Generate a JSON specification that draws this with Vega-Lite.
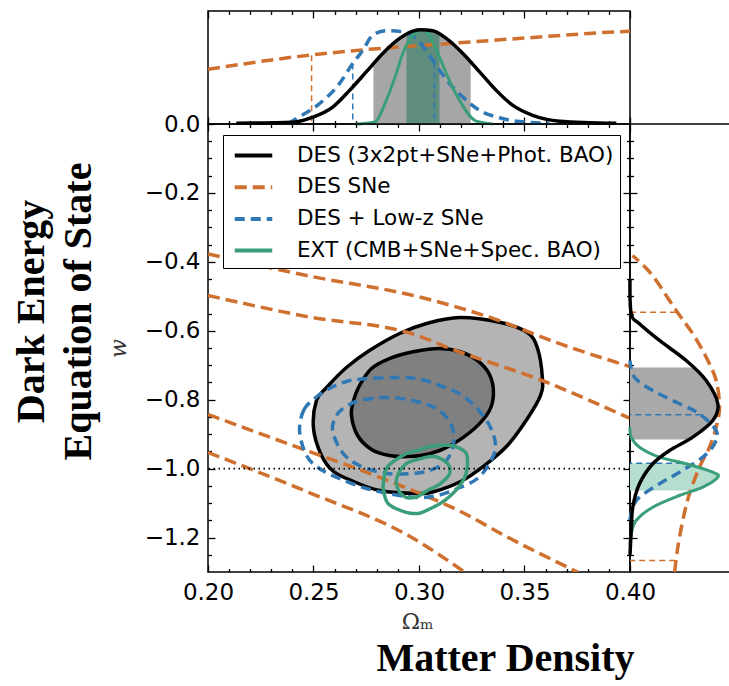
{
  "$schema": "https://vega.github.io/schema/vega-lite/v6.json",
  "usermeta": {"embedOptions": {"actions": false}},
  "autosize": {"type": "none"},
  "padding": {"left": 208, "top": 11, "right": 521, "bottom": 675},
  "bounds": "flush",
  "spacing": 0,
  "config": {
    "view": {"stroke": "black", "strokeWidth": 1.5},
    "axis": {"domain": false, "grid": false, "tickColor": "black", "tickWidth": 1.3, "labelColor": "black", "labelFont": "DejaVu Sans", "labelFontSize": 23, "labelFlush": false, "labelOverlap": false, "titleColor": "black"}
  },
  "datasets": {
    "cont": [
      {"s":"DES (3x2pt+SNe+Phot. BAO)","c":"k2","i":0,"x":0.2500,"w":-0.8836},
      {"s":"DES (3x2pt+SNe+Phot. BAO)","c":"k2","i":1,"x":0.2514,"w":-0.8023},
      {"s":"DES (3x2pt+SNe+Phot. BAO)","c":"k2","i":2,"x":0.2562,"w":-0.7646},
      {"s":"DES (3x2pt+SNe+Phot. BAO)","c":"k2","i":3,"x":0.2656,"w":-0.7066},
      {"s":"DES (3x2pt+SNe+Phot. BAO)","c":"k2","i":4,"x":0.2765,"w":-0.6573},
      {"s":"DES (3x2pt+SNe+Phot. BAO)","c":"k2","i":5,"x":0.2908,"w":-0.6079},
      {"s":"DES (3x2pt+SNe+Phot. BAO)","c":"k2","i":6,"x":0.3036,"w":-0.5789},
      {"s":"DES (3x2pt+SNe+Phot. BAO)","c":"k2","i":7,"x":0.3192,"w":-0.5615},
      {"s":"DES (3x2pt+SNe+Phot. BAO)","c":"k2","i":8,"x":0.3386,"w":-0.5760},
      {"s":"DES (3x2pt+SNe+Phot. BAO)","c":"k2","i":9,"x":0.3514,"w":-0.6050},
      {"s":"DES (3x2pt+SNe+Phot. BAO)","c":"k2","i":10,"x":0.3562,"w":-0.6515},
      {"s":"DES (3x2pt+SNe+Phot. BAO)","c":"k2","i":11,"x":0.3585,"w":-0.7385},
      {"s":"DES (3x2pt+SNe+Phot. BAO)","c":"k2","i":12,"x":0.3576,"w":-0.7878},
      {"s":"DES (3x2pt+SNe+Phot. BAO)","c":"k2","i":13,"x":0.3514,"w":-0.8546},
      {"s":"DES (3x2pt+SNe+Phot. BAO)","c":"k2","i":14,"x":0.3419,"w":-0.9329},
      {"s":"DES (3x2pt+SNe+Phot. BAO)","c":"k2","i":15,"x":0.3310,"w":-0.9910},
      {"s":"DES (3x2pt+SNe+Phot. BAO)","c":"k2","i":16,"x":0.3197,"w":-1.0374},
      {"s":"DES (3x2pt+SNe+Phot. BAO)","c":"k2","i":17,"x":0.3073,"w":-1.0664},
      {"s":"DES (3x2pt+SNe+Phot. BAO)","c":"k2","i":18,"x":0.2993,"w":-1.0722},
      {"s":"DES (3x2pt+SNe+Phot. BAO)","c":"k2","i":19,"x":0.2813,"w":-1.0635},
      {"s":"DES (3x2pt+SNe+Phot. BAO)","c":"k2","i":20,"x":0.2690,"w":-1.0374},
      {"s":"DES (3x2pt+SNe+Phot. BAO)","c":"k2","i":21,"x":0.2595,"w":-1.0084},
      {"s":"DES (3x2pt+SNe+Phot. BAO)","c":"k2","i":22,"x":0.2538,"w":-0.9620},
      {"s":"DES (3x2pt+SNe+Phot. BAO)","c":"k1","i":0,"x":0.2680,"w":-0.8459},
      {"s":"DES (3x2pt+SNe+Phot. BAO)","c":"k1","i":1,"x":0.2690,"w":-0.8023},
      {"s":"DES (3x2pt+SNe+Phot. BAO)","c":"k1","i":2,"x":0.2718,"w":-0.7588},
      {"s":"DES (3x2pt+SNe+Phot. BAO)","c":"k1","i":3,"x":0.2775,"w":-0.7095},
      {"s":"DES (3x2pt+SNe+Phot. BAO)","c":"k1","i":4,"x":0.2860,"w":-0.6805},
      {"s":"DES (3x2pt+SNe+Phot. BAO)","c":"k1","i":5,"x":0.2979,"w":-0.6602},
      {"s":"DES (3x2pt+SNe+Phot. BAO)","c":"k1","i":6,"x":0.3097,"w":-0.6515},
      {"s":"DES (3x2pt+SNe+Phot. BAO)","c":"k1","i":7,"x":0.3192,"w":-0.6602},
      {"s":"DES (3x2pt+SNe+Phot. BAO)","c":"k1","i":8,"x":0.3277,"w":-0.6863},
      {"s":"DES (3x2pt+SNe+Phot. BAO)","c":"k1","i":9,"x":0.3334,"w":-0.7269},
      {"s":"DES (3x2pt+SNe+Phot. BAO)","c":"k1","i":10,"x":0.3353,"w":-0.7791},
      {"s":"DES (3x2pt+SNe+Phot. BAO)","c":"k1","i":11,"x":0.3334,"w":-0.8314},
      {"s":"DES (3x2pt+SNe+Phot. BAO)","c":"k1","i":12,"x":0.3263,"w":-0.8836},
      {"s":"DES (3x2pt+SNe+Phot. BAO)","c":"k1","i":13,"x":0.3149,"w":-0.9329},
      {"s":"DES (3x2pt+SNe+Phot. BAO)","c":"k1","i":14,"x":0.3055,"w":-0.9561},
      {"s":"DES (3x2pt+SNe+Phot. BAO)","c":"k1","i":15,"x":0.2955,"w":-0.9649},
      {"s":"DES (3x2pt+SNe+Phot. BAO)","c":"k1","i":16,"x":0.2860,"w":-0.9620},
      {"s":"DES (3x2pt+SNe+Phot. BAO)","c":"k1","i":17,"x":0.2775,"w":-0.9445},
      {"s":"DES (3x2pt+SNe+Phot. BAO)","c":"k1","i":18,"x":0.2709,"w":-0.9039},
      {"s":"DES + Low-z SNe","c":"b2","i":0,"x":0.2434,"w":-0.8923},
      {"s":"DES + Low-z SNe","c":"b2","i":1,"x":0.2453,"w":-0.8314},
      {"s":"DES + Low-z SNe","c":"b2","i":2,"x":0.2505,"w":-0.7965},
      {"s":"DES + Low-z SNe","c":"b2","i":3,"x":0.2576,"w":-0.7675},
      {"s":"DES + Low-z SNe","c":"b2","i":4,"x":0.2656,"w":-0.7472},
      {"s":"DES + Low-z SNe","c":"b2","i":5,"x":0.2751,"w":-0.7385},
      {"s":"DES + Low-z SNe","c":"b2","i":6,"x":0.2879,"w":-0.7356},
      {"s":"DES + Low-z SNe","c":"b2","i":7,"x":0.2993,"w":-0.7385},
      {"s":"DES + Low-z SNe","c":"b2","i":8,"x":0.3097,"w":-0.7588},
      {"s":"DES + Low-z SNe","c":"b2","i":9,"x":0.3182,"w":-0.7791},
      {"s":"DES + Low-z SNe","c":"b2","i":10,"x":0.3263,"w":-0.8168},
      {"s":"DES + Low-z SNe","c":"b2","i":11,"x":0.3334,"w":-0.8749},
      {"s":"DES + Low-z SNe","c":"b2","i":12,"x":0.3363,"w":-0.9329},
      {"s":"DES + Low-z SNe","c":"b2","i":13,"x":0.3339,"w":-0.9794},
      {"s":"DES + Low-z SNe","c":"b2","i":14,"x":0.3277,"w":-1.0287},
      {"s":"DES + Low-z SNe","c":"b2","i":15,"x":0.3182,"w":-1.0577},
      {"s":"DES + Low-z SNe","c":"b2","i":16,"x":0.3088,"w":-1.0780},
      {"s":"DES + Low-z SNe","c":"b2","i":17,"x":0.2993,"w":-1.0838},
      {"s":"DES + Low-z SNe","c":"b2","i":18,"x":0.2879,"w":-1.0751},
      {"s":"DES + Low-z SNe","c":"b2","i":19,"x":0.2751,"w":-1.0577},
      {"s":"DES + Low-z SNe","c":"b2","i":20,"x":0.2623,"w":-1.0287},
      {"s":"DES + Low-z SNe","c":"b2","i":21,"x":0.2528,"w":-0.9997},
      {"s":"DES + Low-z SNe","c":"b2","i":22,"x":0.2467,"w":-0.9620},
      {"s":"DES + Low-z SNe","c":"b1","i":0,"x":0.2590,"w":-0.8894},
      {"s":"DES + Low-z SNe","c":"b1","i":1,"x":0.2609,"w":-0.8459},
      {"s":"DES + Low-z SNe","c":"b1","i":2,"x":0.2647,"w":-0.8227},
      {"s":"DES + Low-z SNe","c":"b1","i":3,"x":0.2718,"w":-0.8023},
      {"s":"DES + Low-z SNe","c":"b1","i":4,"x":0.2846,"w":-0.7936},
      {"s":"DES + Low-z SNe","c":"b1","i":5,"x":0.2969,"w":-0.8023},
      {"s":"DES + Low-z SNe","c":"b1","i":6,"x":0.3073,"w":-0.8227},
      {"s":"DES + Low-z SNe","c":"b1","i":7,"x":0.3135,"w":-0.8546},
      {"s":"DES + Low-z SNe","c":"b1","i":8,"x":0.3164,"w":-0.8952},
      {"s":"DES + Low-z SNe","c":"b1","i":9,"x":0.3159,"w":-0.9417},
      {"s":"DES + Low-z SNe","c":"b1","i":10,"x":0.3121,"w":-0.9823},
      {"s":"DES + Low-z SNe","c":"b1","i":11,"x":0.3050,"w":-1.0055},
      {"s":"DES + Low-z SNe","c":"b1","i":12,"x":0.2969,"w":-1.0141},
      {"s":"DES + Low-z SNe","c":"b1","i":13,"x":0.2846,"w":-1.0141},
      {"s":"DES + Low-z SNe","c":"b1","i":14,"x":0.2718,"w":-0.9910},
      {"s":"DES + Low-z SNe","c":"b1","i":15,"x":0.2637,"w":-0.9532},
      {"s":"EXT (CMB+SNe+Spec. BAO)","c":"g2","i":0,"x":0.2832,"w":-1.0374},
      {"s":"EXT (CMB+SNe+Spec. BAO)","c":"g2","i":1,"x":0.2846,"w":-0.9997},
      {"s":"EXT (CMB+SNe+Spec. BAO)","c":"g2","i":2,"x":0.2879,"w":-0.9794},
      {"s":"EXT (CMB+SNe+Spec. BAO)","c":"g2","i":3,"x":0.2941,"w":-0.9561},
      {"s":"EXT (CMB+SNe+Spec. BAO)","c":"g2","i":4,"x":0.2993,"w":-0.9474},
      {"s":"EXT (CMB+SNe+Spec. BAO)","c":"g2","i":5,"x":0.3055,"w":-0.9358},
      {"s":"EXT (CMB+SNe+Spec. BAO)","c":"g2","i":6,"x":0.3149,"w":-0.9329},
      {"s":"EXT (CMB+SNe+Spec. BAO)","c":"g2","i":7,"x":0.3216,"w":-0.9503},
      {"s":"EXT (CMB+SNe+Spec. BAO)","c":"g2","i":8,"x":0.3230,"w":-0.9794},
      {"s":"EXT (CMB+SNe+Spec. BAO)","c":"g2","i":9,"x":0.3220,"w":-1.0200},
      {"s":"EXT (CMB+SNe+Spec. BAO)","c":"g2","i":10,"x":0.3182,"w":-1.0577},
      {"s":"EXT (CMB+SNe+Spec. BAO)","c":"g2","i":11,"x":0.3121,"w":-1.0926},
      {"s":"EXT (CMB+SNe+Spec. BAO)","c":"g2","i":12,"x":0.3055,"w":-1.1157},
      {"s":"EXT (CMB+SNe+Spec. BAO)","c":"g2","i":13,"x":0.2993,"w":-1.1302},
      {"s":"EXT (CMB+SNe+Spec. BAO)","c":"g2","i":14,"x":0.2927,"w":-1.1244},
      {"s":"EXT (CMB+SNe+Spec. BAO)","c":"g2","i":15,"x":0.2855,"w":-1.1021},
      {"s":"EXT (CMB+SNe+Spec. BAO)","c":"g2","i":16,"x":0.2832,"w":-1.0635},
      {"s":"EXT (CMB+SNe+Spec. BAO)","c":"g1","i":0,"x":0.2893,"w":-1.0345},
      {"s":"EXT (CMB+SNe+Spec. BAO)","c":"g1","i":1,"x":0.2908,"w":-1.0084},
      {"s":"EXT (CMB+SNe+Spec. BAO)","c":"g1","i":2,"x":0.2941,"w":-0.9852},
      {"s":"EXT (CMB+SNe+Spec. BAO)","c":"g1","i":3,"x":0.2993,"w":-0.9736},
      {"s":"EXT (CMB+SNe+Spec. BAO)","c":"g1","i":4,"x":0.3073,"w":-0.9649},
      {"s":"EXT (CMB+SNe+Spec. BAO)","c":"g1","i":5,"x":0.3135,"w":-0.9852},
      {"s":"EXT (CMB+SNe+Spec. BAO)","c":"g1","i":6,"x":0.3145,"w":-1.0141},
      {"s":"EXT (CMB+SNe+Spec. BAO)","c":"g1","i":7,"x":0.3102,"w":-1.0432},
      {"s":"EXT (CMB+SNe+Spec. BAO)","c":"g1","i":8,"x":0.3040,"w":-1.0635},
      {"s":"EXT (CMB+SNe+Spec. BAO)","c":"g1","i":9,"x":0.2993,"w":-1.0809},
      {"s":"EXT (CMB+SNe+Spec. BAO)","c":"g1","i":10,"x":0.2941,"w":-1.0838},
      {"s":"EXT (CMB+SNe+Spec. BAO)","c":"g1","i":11,"x":0.2903,"w":-1.0635}
    ],
    "sn": [
      {"s":"DES SNe","c":"A","x":0.2,"w":-0.377},
      {"s":"DES SNe","c":"A","x":0.2467,"w":-0.4396},
      {"s":"DES SNe","c":"A","x":0.2993,"w":-0.5006},
      {"s":"DES SNe","c":"A","x":0.3310,"w":-0.5557},
      {"s":"DES SNe","c":"A","x":0.3704,"w":-0.6457},
      {"s":"DES SNe","c":"A","x":0.4,"w":-0.7037},
      {"s":"DES SNe","c":"B","x":0.2,"w":-0.4977},
      {"s":"DES SNe","c":"B","x":0.2467,"w":-0.5586},
      {"s":"DES SNe","c":"B","x":0.2993,"w":-0.6137},
      {"s":"DES SNe","c":"B","x":0.3149,"w":-0.6515},
      {"s":"DES SNe","c":"B","x":0.3595,"w":-0.7472},
      {"s":"DES SNe","c":"B","x":0.4,"w":-0.8546},
      {"s":"DES SNe","c":"C","x":0.2,"w":-0.8430},
      {"s":"DES SNe","c":"C","x":0.2467,"w":-0.9474},
      {"s":"DES SNe","c":"C","x":0.2704,"w":-0.9997},
      {"s":"DES SNe","c":"C","x":0.2993,"w":-1.0693},
      {"s":"DES SNe","c":"C","x":0.3197,"w":-1.1244},
      {"s":"DES SNe","c":"C","x":0.3405,"w":-1.1941},
      {"s":"DES SNe","c":"C","x":0.3751,"w":-1.30},
      {"s":"DES SNe","c":"D","x":0.2,"w":-0.9532},
      {"s":"DES SNe","c":"D","x":0.2467,"w":-1.0664},
      {"s":"DES SNe","c":"D","x":0.2974,"w":-1.2028},
      {"s":"DES SNe","c":"D","x":0.3216,"w":-1.30}
    ],
    "ref": [{"w": -1.0}],
    "top": [
      {"s":"k","x":0.2134,"d":0.008},{"s":"k","x":0.2402,"d":0.019},{"s":"k","x":0.2497,"d":0.072},{"s":"k","x":0.2591,"d":0.179},
      {"s":"k","x":0.2671,"d":0.357},{"s":"k","x":0.2750,"d":0.553},{"s":"k","x":0.2828,"d":0.749},{"s":"k","x":0.2908,"d":0.909},
      {"s":"k","x":0.2971,"d":0.987},{"s":"k","x":0.3010,"d":1.0},{"s":"k","x":0.3065,"d":0.990},{"s":"k","x":0.3129,"d":0.909},
      {"s":"k","x":0.3208,"d":0.749},{"s":"k","x":0.3287,"d":0.553},{"s":"k","x":0.3366,"d":0.357},{"s":"k","x":0.3445,"d":0.197},
      {"s":"k","x":0.3539,"d":0.091},{"s":"k","x":0.3666,"d":0.030},{"s":"k","x":0.3935,"d":0.008},
      {"s":"b","x":0.2380,"d":0.0},{"s":"b","x":0.2410,"d":0.045},{"s":"b","x":0.2528,"d":0.215},{"s":"b","x":0.2623,"d":0.429},
      {"s":"b","x":0.2686,"d":0.642},{"s":"b","x":0.2734,"d":0.784},{"s":"b","x":0.2781,"d":0.944},{"s":"b","x":0.2845,"d":0.990},
      {"s":"b","x":0.2923,"d":0.979},{"s":"b","x":0.3002,"d":0.873},{"s":"b","x":0.3065,"d":0.677},{"s":"b","x":0.3145,"d":0.429},
      {"s":"b","x":0.3208,"d":0.286},{"s":"b","x":0.3287,"d":0.144},{"s":"b","x":0.3382,"d":0.066},{"s":"b","x":0.3508,"d":0.019},
      {"s":"b","x":0.3618,"d":0.0085},
      {"s":"g","x":0.2700,"d":0.0},{"s":"g","x":0.2789,"d":0.019},{"s":"g","x":0.2845,"d":0.251},{"s":"g","x":0.2892,"d":0.535},
      {"s":"g","x":0.2923,"d":0.749},{"s":"g","x":0.2955,"d":0.891},{"s":"g","x":0.2987,"d":0.979},{"s":"g","x":0.3010,"d":0.997},
      {"s":"g","x":0.3034,"d":0.979},{"s":"g","x":0.3065,"d":0.872},{"s":"g","x":0.3097,"d":0.712},{"s":"g","x":0.3137,"d":0.499},
      {"s":"g","x":0.3192,"d":0.251},{"s":"g","x":0.3271,"d":0.030},{"s":"g","x":0.3350,"d":0.0},
      {"s":"o","x":0.2,"d":0.581},{"s":"o","x":0.2481,"d":0.731},{"s":"o","x":0.2718,"d":0.784},{"s":"o","x":0.3145,"d":0.855},
      {"s":"o","x":0.3540,"d":0.919},{"s":"o","x":0.3936,"d":0.979},{"s":"o","x":0.4,"d":0.985}
    ],
    "topRule": [
      {"s":"o","x":0.2491,"d":0.73},
      {"s":"b","x":0.2686,"d":0.642},
      {"s":"b","x":0.3073,"d":0.65}
    ],
    "topBand": [
      {"b":"k","x":0.2784,"d":0.64},{"b":"k","x":0.2828,"d":0.749},{"b":"k","x":0.2908,"d":0.909},{"b":"k","x":0.2971,"d":0.987},
      {"b":"k","x":0.3010,"d":1.0},{"b":"k","x":0.3065,"d":0.990},{"b":"k","x":0.3129,"d":0.909},{"b":"k","x":0.3208,"d":0.749},
      {"b":"k","x":0.3245,"d":0.66},
      {"b":"g","x":0.2941,"d":0.95},{"b":"g","x":0.2971,"d":0.987},{"b":"g","x":0.3010,"d":1.0},{"b":"g","x":0.3065,"d":0.990},
      {"b":"g","x":0.3097,"d":0.95}
    ],
    "side": [
      {"s":"k","w":-0.45,"d":0.0},{"s":"k","w":-0.5508,"d":0.014},{"s":"k","w":-0.5798,"d":0.109},{"s":"k","w":-0.6282,"d":0.339},
      {"s":"k","w":-0.6863,"d":0.646},{"s":"k","w":-0.7443,"d":0.876},{"s":"k","w":-0.8119,"d":1.010},{"s":"k","w":-0.8604,"d":0.952},
      {"s":"k","w":-0.9088,"d":0.722},{"s":"k","w":-0.9474,"d":0.454},{"s":"k","w":-0.9860,"d":0.262},{"s":"k","w":-1.0441,"d":0.109},
      {"s":"k","w":-1.1120,"d":0.032},{"s":"k","w":-1.1796,"d":0.014},{"s":"k","w":-1.25,"d":0.0},
      {"s":"g","w":-0.88,"d":0.0},{"s":"g","w":-0.9088,"d":0.014},{"s":"g","w":-0.9379,"d":0.109},{"s":"g","w":-0.9669,"d":0.339},
      {"s":"g","w":-0.9860,"d":0.646},{"s":"g","w":-1.0104,"d":0.952},{"s":"g","w":-1.0249,"d":1.010},{"s":"g","w":-1.0539,"d":0.837},
      {"s":"g","w":-1.0780,"d":0.569},{"s":"g","w":-1.1120,"d":0.262},{"s":"g","w":-1.1506,"d":0.071},{"s":"g","w":-1.1892,"d":0.014},
      {"s":"g","w":-1.22,"d":0.0},
      {"s":"b","w":-0.6863,"d":0.0},{"s":"b","w":-0.7347,"d":0.052},{"s":"b","w":-0.7733,"d":0.262},{"s":"b","w":-0.8119,"d":0.569},
      {"s":"b","w":-0.8410,"d":0.799},{"s":"b","w":-0.8894,"d":0.991},{"s":"b","w":-0.9280,"d":0.972},{"s":"b","w":-0.9669,"d":0.837},
      {"s":"b","w":-1.0104,"d":0.569},{"s":"b","w":-1.0441,"d":0.339},{"s":"b","w":-1.0829,"d":0.109},{"s":"b","w":-1.1120,"d":0.032},
      {"s":"b","w":-1.15,"d":0.0},
      {"s":"o","w":-0.3816,"d":0.029},{"s":"o","w":-0.4135,"d":0.167},{"s":"o","w":-0.4541,"d":0.301},{"s":"o","w":-0.5412,"d":0.531},
      {"s":"o","w":-0.6088,"d":0.722},{"s":"o","w":-0.6767,"d":0.876},{"s":"o","w":-0.7443,"d":0.991},{"s":"o","w":-0.8218,"d":1.029},
      {"s":"o","w":-0.8798,"d":0.991},{"s":"o","w":-0.9379,"d":0.914},{"s":"o","w":-0.9959,"d":0.799},{"s":"o","w":-1.0731,"d":0.684},
      {"s":"o","w":-1.1506,"d":0.607},{"s":"o","w":-1.2281,"d":0.550},{"s":"o","w":-1.30,"d":0.513}
    ],
    "sideRule": [
      {"s":"o","w":-0.5461,"d":0.53},
      {"s":"o","w":-1.2667,"d":0.52},
      {"s":"b","w":-0.8438,"d":0.82},
      {"s":"b","w":-0.9843,"d":0.60}
    ],
    "sideBand": [
      {"b":"k","w":-0.7066,"d":0.726},{"b":"k","w":-0.7443,"d":0.876},{"b":"k","w":-0.8119,"d":1.010},{"b":"k","w":-0.8604,"d":0.952},
      {"b":"k","w":-0.9088,"d":0.722},{"b":"k","w":-0.9155,"d":0.68},
      {"b":"g","w":-0.9843,"d":0.62},{"b":"g","w":-0.9860,"d":0.646},{"b":"g","w":-1.0104,"d":0.952},{"b":"g","w":-1.0249,"d":1.010},
      {"b":"g","w":-1.0539,"d":0.837},{"b":"g","w":-1.0635,"d":0.74}
    ]
  },
  "vconcat": [
    {
      "width": 422,
      "height": 113,
      "resolve": {"axis": {"x": "independent", "y": "independent"}},
      "layer": [
        {
          "data": {"name": "topBand"},
          "transform": [{"filter": "datum.b === 'k'"}],
          "mark": {"type": "area", "color": "#a6a6a6", "interpolate": "monotone"},
          "encoding": {
            "x": {"field": "x", "type": "quantitative", "scale": {"domain": [0.2, 0.4], "nice": false, "zero": false},
                  "axis": {"orient": "bottom", "values": [0.2, 0.25, 0.3, 0.35, 0.4], "labels": false, "tickSize": -7, "title": null}},
            "y": {"field": "d", "type": "quantitative", "scale": {"domain": [0, 1.2], "nice": false},
                  "axis": {"orient": "left", "values": [0], "format": ".1f", "tickSize": -7, "labelPadding": 15, "title": null}}
          }
        },
        {
          "data": {"name": "topBand"},
          "transform": [{"filter": "datum.b === 'g'"}],
          "mark": {"type": "area", "color": "#5e8c7e", "interpolate": "monotone"},
          "encoding": {
            "x": {"field": "x", "type": "quantitative",
                  "axis": {"orient": "bottom", "values": [0.21,0.22,0.23,0.24,0.26,0.27,0.28,0.29,0.31,0.32,0.33,0.34,0.36,0.37,0.38,0.39], "labels": false, "tickSize": -3.5, "title": null}},
            "y": {"field": "d", "type": "quantitative", "axis": null}
          }
        },
        {
          "data": {"name": "top"},
          "transform": [{"filter": "datum.s === 'o'"}],
          "mark": {"type": "line", "color": "#d0702f", "strokeDash": [12, 6], "strokeWidth": 3.5, "interpolate": "monotone"},
          "encoding": {
            "x": {"field": "x", "type": "quantitative",
                  "axis": {"orient": "top", "values": [0.2, 0.25, 0.3, 0.35, 0.4], "labels": false, "tickSize": -7, "title": null}},
            "y": {"field": "d", "type": "quantitative", "axis": null}
          }
        },
        {
          "data": {"name": "topRule"},
          "transform": [{"filter": "datum.s === 'o'"}],
          "mark": {"type": "rule", "color": "#d0702f", "strokeDash": [6, 4], "strokeWidth": 1.5},
          "encoding": {
            "x": {"field": "x", "type": "quantitative",
                  "axis": {"orient": "top", "values": [0.21,0.22,0.23,0.24,0.26,0.27,0.28,0.29,0.31,0.32,0.33,0.34,0.36,0.37,0.38,0.39], "labels": false, "tickSize": -3.5, "title": null}},
            "y": {"field": "d", "type": "quantitative", "axis": null},
            "y2": {"datum": 0}
          }
        },
        {
          "data": {"name": "top"},
          "transform": [{"filter": "datum.s === 'b'"}],
          "mark": {"type": "line", "color": "#2f78b4", "strokeDash": [10, 6], "strokeWidth": 3.5, "interpolate": "monotone"},
          "encoding": {
            "x": {"field": "x", "type": "quantitative", "axis": null},
            "y": {"field": "d", "type": "quantitative", "axis": null}
          }
        },
        {
          "data": {"name": "topRule"},
          "transform": [{"filter": "datum.s === 'b'"}],
          "mark": {"type": "rule", "color": "#2f78b4", "strokeDash": [6, 4], "strokeWidth": 1.5},
          "encoding": {
            "x": {"field": "x", "type": "quantitative", "axis": null},
            "y": {"field": "d", "type": "quantitative", "axis": null},
            "y2": {"datum": 0}
          }
        },
        {
          "data": {"name": "top"},
          "transform": [{"filter": "datum.s === 'g'"}],
          "mark": {"type": "line", "color": "#3a9e78", "strokeWidth": 3, "interpolate": "monotone"},
          "encoding": {
            "x": {"field": "x", "type": "quantitative", "axis": null},
            "y": {"field": "d", "type": "quantitative", "axis": null}
          }
        },
        {
          "data": {"name": "top"},
          "transform": [{"filter": "datum.s === 'k'"}],
          "mark": {"type": "line", "color": "black", "strokeWidth": 3.5, "interpolate": "monotone"},
          "encoding": {
            "x": {"field": "x", "type": "quantitative", "axis": null},
            "y": {"field": "d", "type": "quantitative", "axis": null}
          }
        }
      ]
    },
    {
      "bounds": "flush",
      "spacing": 0,
      "hconcat": [
        {
          "width": 422,
          "height": 448,
          "resolve": {"axis": {"x": "independent", "y": "independent"}},
          "layer": [
            {
              "data": {"name": "cont"},
              "transform": [{"filter": "datum.c === 'k2'"}],
              "mark": {"type": "line", "interpolate": "cardinal-closed", "fill": "#b4b4b4", "stroke": "black", "strokeWidth": 3.5},
              "encoding": {
                "x": {"field": "x", "type": "quantitative", "scale": {"domain": [0.2, 0.4], "nice": false, "zero": false},
                      "axis": {"orient": "bottom", "values": [0.2, 0.25, 0.3, 0.35, 0.4], "format": ".2f", "tickSize": -7, "labelPadding": 16,
                               "title": "Ωₘ", "titleFont": "DejaVu Serif", "titleFontSize": 22, "titleFontWeight": "normal", "titleColor": "#333333",
                               "titleX": 209, "titleY": 56, "titleAlign": "center", "titleBaseline": "alphabetic"}},
                "y": {"field": "w", "type": "quantitative", "scale": {"domain": [-1.3, 0], "nice": false, "zero": false},
                      "axis": {"orient": "left", "values": [-1.2, -1.0, -0.8, -0.6, -0.4, -0.2], "format": ".1f", "tickSize": -7, "labelPadding": 15,
                               "title": ["Dark Energy", "Equation of State"], "titleFont": "Liberation Serif", "titleFontSize": 40, "titleFontWeight": "bold",
                               "titleAngle": 270, "titleX": -165, "titleY": 187, "titleAlign": "center", "titleBaseline": "alphabetic", "titleLineHeight": 47}},
                "order": {"field": "i", "type": "quantitative"}
              }
            },
            {
              "data": {"name": "cont"},
              "transform": [{"filter": "datum.c === 'k1'"}],
              "mark": {"type": "line", "interpolate": "cardinal-closed", "fill": "#808080", "stroke": "black", "strokeWidth": 3.5},
              "encoding": {
                "x": {"field": "x", "type": "quantitative",
                      "axis": {"orient": "bottom", "values": [0.21,0.22,0.23,0.24,0.26,0.27,0.28,0.29,0.31,0.32,0.33,0.34,0.36,0.37,0.38,0.39], "labels": false, "tickSize": -3.5,
                               "title": "Matter Density", "titleFont": "Liberation Serif", "titleFontSize": 40, "titleFontWeight": "bold",
                               "titleX": 297, "titleY": 98, "titleAlign": "center", "titleBaseline": "alphabetic"}},
                "y": {"field": "w", "type": "quantitative",
                      "axis": {"orient": "left", "values": [-1.25,-1.15,-1.1,-1.05,-0.95,-0.9,-0.85,-0.75,-0.7,-0.65,-0.55,-0.5,-0.45,-0.35,-0.3,-0.25,-0.15,-0.1,-0.05], "labels": false, "tickSize": -3.5,
                               "title": "w", "titleFont": "DejaVu Serif", "titleFontSize": 22, "titleFontWeight": "normal", "titleFontStyle": "italic", "titleColor": "#333333",
                               "titleAngle": 270, "titleX": -90, "titleY": 224, "titleAlign": "center", "titleBaseline": "middle"}},
                "order": {"field": "i", "type": "quantitative"}
              }
            },
            {
              "data": {"name": "sn"},
              "mark": {"type": "line", "interpolate": "monotone", "strokeWidth": 3.5, "clip": true},
              "encoding": {
                "x": {"field": "x", "type": "quantitative",
                      "axis": {"orient": "top", "values": [0.2, 0.25, 0.3, 0.35, 0.4], "labels": false, "tickSize": -7, "title": null}},
                "y": {"field": "w", "type": "quantitative",
                      "axis": {"orient": "right", "values": [-1.2, -1.0, -0.8, -0.6, -0.4, -0.2], "labels": false, "tickSize": -7, "title": null}},
                "detail": {"field": "c"},
                "color": {"field": "s", "type": "nominal"},
                "strokeDash": {"field": "s", "type": "nominal"}
              }
            },
            {
              "data": {"name": "cont"},
              "transform": [{"filter": {"field": "c", "oneOf": ["b2", "b1", "g2", "g1"]}}],
              "mark": {"type": "line", "interpolate": "cardinal-closed", "strokeWidth": 3.5},
              "encoding": {
                "x": {"field": "x", "type": "quantitative",
                      "axis": {"orient": "top", "values": [0.21,0.22,0.23,0.24,0.26,0.27,0.28,0.29,0.31,0.32,0.33,0.34,0.36,0.37,0.38,0.39], "labels": false, "tickSize": -3.5, "title": null}},
                "y": {"field": "w", "type": "quantitative",
                      "axis": {"orient": "right", "values": [-1.25,-1.15,-1.1,-1.05,-0.95,-0.9,-0.85,-0.75,-0.7,-0.65,-0.55,-0.5,-0.45,-0.35,-0.3,-0.25,-0.15,-0.1,-0.05], "labels": false, "tickSize": -3.5, "title": null}},
                "detail": {"field": "c"},
                "order": {"field": "i", "type": "quantitative"},
                "color": {"field": "s", "type": "nominal",
                          "scale": {"domain": ["DES (3x2pt+SNe+Phot. BAO)", "DES SNe", "DES + Low-z SNe", "EXT (CMB+SNe+Spec. BAO)"],
                                    "range": ["#000000", "#d0702f", "#2f78b4", "#3a9e78"]},
                          "legend": {"orient": "none", "legendX": 15, "legendY": 124, "title": null, "direction": "vertical",
                                     "symbolType": "M-1.5,0H1.5", "symbolSize": 625, "symbolStrokeWidth": 4, "symbolOffset": 10,
                                     "labelFont": "DejaVu Sans", "labelFontSize": 21.5, "labelColor": "black", "labelOffset": 29, "labelLimit": 0,
                                     "rowPadding": 6.7, "padding": 6, "strokeColor": "black", "fillColor": "white"}},
                "strokeDash": {"field": "s", "type": "nominal",
                               "scale": {"domain": ["DES (3x2pt+SNe+Phot. BAO)", "DES SNe", "DES + Low-z SNe", "EXT (CMB+SNe+Spec. BAO)"],
                                         "range": [[1, 0], [12, 6], [10, 6], [1, 0]]},
                               "legend": {"orient": "none", "legendX": 15, "legendY": 124, "title": null, "direction": "vertical",
                                          "symbolType": "M-1.5,0H1.5", "symbolSize": 625, "symbolStrokeWidth": 4, "symbolOffset": 10,
                                          "labelFont": "DejaVu Sans", "labelFontSize": 21.5, "labelColor": "black", "labelOffset": 29, "labelLimit": 0,
                                          "rowPadding": 6.7, "padding": 6, "strokeColor": "black", "fillColor": "white"}}
              }
            },
            {
              "data": {"name": "ref"},
              "mark": {"type": "rule", "color": "black", "strokeDash": [1.5, 3.5], "strokeWidth": 1.8},
              "encoding": {
                "y": {"field": "w", "type": "quantitative", "axis": null}
              }
            }
          ]
        },
        {
          "width": 100,
          "height": 448,
          "resolve": {"axis": {"x": "independent", "y": "independent"}},
          "layer": [
            {
              "data": {"name": "sideBand"},
              "transform": [{"filter": "datum.b === 'k'"}],
              "mark": {"type": "area", "orient": "horizontal", "color": "#a9a9a9", "interpolate": "monotone"},
              "encoding": {
                "y": {"field": "w", "type": "quantitative", "scale": {"domain": [-1.3, 0], "nice": false, "zero": false},
                      "axis": {"orient": "left", "values": [-1.2, -1.0, -0.8, -0.6, -0.4, -0.2], "labels": false, "tickSize": -7, "title": null}},
                "x": {"field": "d", "type": "quantitative", "scale": {"domain": [0, 1.15], "nice": false}, "axis": null}
              }
            },
            {
              "data": {"name": "sideBand"},
              "transform": [{"filter": "datum.b === 'g'"}],
              "mark": {"type": "area", "orient": "horizontal", "color": "#b5ddd0", "interpolate": "monotone"},
              "encoding": {
                "y": {"field": "w", "type": "quantitative",
                      "axis": {"orient": "left", "values": [-1.25,-1.15,-1.1,-1.05,-0.95,-0.9,-0.85,-0.75,-0.7,-0.65,-0.55,-0.5,-0.45,-0.35,-0.3,-0.25,-0.15,-0.1,-0.05], "labels": false, "tickSize": -3.5, "title": null}},
                "x": {"field": "d", "type": "quantitative", "axis": null}
              }
            },
            {
              "data": {"name": "side"},
              "transform": [{"filter": "datum.s === 'o'"}],
              "mark": {"type": "line", "color": "#d0702f", "strokeDash": [12, 6], "strokeWidth": 3.5, "interpolate": "cardinal", "clip": true},
              "encoding": {
                "y": {"field": "w", "type": "quantitative", "axis": null},
                "x": {"field": "d", "type": "quantitative", "axis": null},
                "order": {"field": "w", "type": "quantitative"}
              }
            },
            {
              "data": {"name": "sideRule"},
              "transform": [{"filter": "datum.s === 'o'"}],
              "mark": {"type": "rule", "color": "#d0702f", "strokeDash": [6, 4], "strokeWidth": 1.5},
              "encoding": {
                "y": {"field": "w", "type": "quantitative", "axis": null},
                "x": {"field": "d", "type": "quantitative", "axis": null},
                "x2": {"datum": 0}
              }
            },
            {
              "data": {"name": "side"},
              "transform": [{"filter": "datum.s === 'b'"}],
              "mark": {"type": "line", "color": "#2f78b4", "strokeDash": [10, 6], "strokeWidth": 3.5, "interpolate": "cardinal"},
              "encoding": {
                "y": {"field": "w", "type": "quantitative", "axis": null},
                "x": {"field": "d", "type": "quantitative", "axis": null},
                "order": {"field": "w", "type": "quantitative"}
              }
            },
            {
              "data": {"name": "sideRule"},
              "transform": [{"filter": "datum.s === 'b'"}],
              "mark": {"type": "rule", "color": "#2f78b4", "strokeDash": [6, 4], "strokeWidth": 1.5},
              "encoding": {
                "y": {"field": "w", "type": "quantitative", "axis": null},
                "x": {"field": "d", "type": "quantitative", "axis": null},
                "x2": {"datum": 0}
              }
            },
            {
              "data": {"name": "side"},
              "transform": [{"filter": "datum.s === 'g'"}],
              "mark": {"type": "line", "color": "#3a9e78", "strokeWidth": 3, "interpolate": "cardinal"},
              "encoding": {
                "y": {"field": "w", "type": "quantitative", "axis": null},
                "x": {"field": "d", "type": "quantitative", "axis": null},
                "order": {"field": "w", "type": "quantitative"}
              }
            },
            {
              "data": {"name": "side"},
              "transform": [{"filter": "datum.s === 'k'"}],
              "mark": {"type": "line", "color": "black", "strokeWidth": 3.5, "interpolate": "cardinal"},
              "encoding": {
                "y": {"field": "w", "type": "quantitative", "axis": null},
                "x": {"field": "d", "type": "quantitative", "axis": null},
                "order": {"field": "w", "type": "quantitative"}
              }
            }
          ]
        }
      ]
    }
  ]
}
